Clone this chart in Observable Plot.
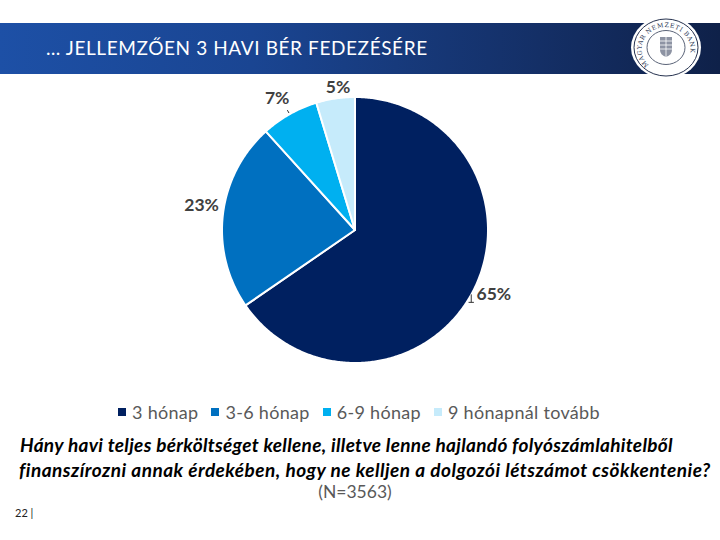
<!DOCTYPE html>
<html lang="hu">
<head>
<meta charset="utf-8">
<script src="https://cdn.jsdelivr.net/npm/d3@7"></script>
<script src="https://cdn.jsdelivr.net/npm/@observablehq/plot@0.6"></script>
<style>
  html, body { margin: 0; padding: 0; background: #fff; }
  #page { position: relative; width: 720px; height: 540px; overflow: hidden; font-family: Lato, "Open Sans", sans-serif; }
  #band { position: absolute; left: 0; top: 23px; width: 720px; height: 51px;
          background: linear-gradient(90deg, #1d50a6 0%, #1a4592 35%, #142f66 75%, #0f2149 100%); }
  #title { position: absolute; left: 46px; top: 36px; color: #fff; font-size: 19px; line-height: 24px; letter-spacing: .6px; white-space: nowrap; }
  #logo { position: absolute; left: 625px; top: 12px; }
  #chart { position: absolute; left: 0; top: 74px; }
  #legend { position: absolute; top: 400px; left: 118px; display: flex; color: #595959; font-size: 18px; line-height: 24px; white-space: nowrap; letter-spacing: .3px; }
  #legend span.item { display: flex; align-items: center; margin-right: 13px; }
  #legend i { display: inline-block; width: 8px; height: 8px; margin-right: 6px; }
  .q { position: absolute; color: #000; font-size: 19px; font-weight: 700; font-style: italic; line-height: 24px; white-space: nowrap; }
  #n { position: absolute; left: 0; width: 710px; top: 480px; text-align: center; color: #595959; font-size: 17.5px; line-height: 24px; }
  #pageno { position: absolute; left: 15px; top: 506px; font-size: 11px; line-height: 14px; color: #222; }
</style>
</head>
<body>
<div id="page">
  <div id="band"></div>
  <div id="title"></div>
  <svg id="logo" width="84" height="72" viewBox="0 0 84 72">
    <ellipse cx="41" cy="35.5" rx="35" ry="31" fill="#fff"/>
    <ellipse cx="41" cy="35.5" rx="32" ry="28.5" fill="none" stroke="#26324f" stroke-width="1"/>
    <ellipse cx="41" cy="35.5" rx="19" ry="17" fill="none" stroke="#5b6478" stroke-width="1"/>
    <path id="logoArc" d="M 24 53 A 24.5 22 0 1 1 58 53" fill="none"/>
    <text font-size="6.2" font-family="'DejaVu Serif', serif" fill="#26324f" letter-spacing=".6"><textPath href="#logoArc">MAGYAR NEMZETI BANK</textPath></text>
    <path d="M35 25 h12 v13 q0 5 -6 7 q-6 -2 -6 -7 z" fill="#8d93a3"/>
    <path d="M35 29 h12 M35 33 h12 M35 37 h12 M41 25 v20" stroke="#fff" stroke-width=".8"/>
  </svg>
  <div id="chart"></div>
  <div id="legend"></div>
  <div class="q" id="q1" style="top:433px;left:20px;letter-spacing:.31px"></div>
  <div class="q" id="q2" style="top:458px;left:19px;letter-spacing:.48px"></div>
  <div id="n"></div>
  <div id="pageno"></div>
</div>
<script>
const titleText = "… JELLEMZŐEN 3 HAVI BÉR FEDEZÉSÉRE";
const categories = ["3 hónap", "3-6 hónap", "6-9 hónap", "9 hónapnál tovább"];
const values = [65.4, 22.9, 7.0, 4.7];
const colors = ["#002060", "#0070c0", "#00b0f0", "#c6ebfb"];
const labelNudgeX = [3, -2, -3, 5];
const labelNudgeY = [-7, -7, 1, 8];
const questionLines = [
  "Hány havi teljes bérköltséget kellene, illetve lenne hajlandó folyószámlahitelből",
  "finanszírozni annak érdekében, hogy ne kelljen a dolgozói létszámot csökkentenie?"
];
const sampleText = "(N=3563)";
const pageNumber = "22 |";

document.getElementById("title").textContent = titleText;
document.getElementById("q1").textContent = questionLines[0];
document.getElementById("q2").textContent = questionLines[1];
document.getElementById("n").textContent = sampleText;
document.getElementById("pageno").textContent = pageNumber;
document.getElementById("legend").innerHTML = categories.map((c, i) =>
  `<span class="item"><i style="background:${colors[i]}"></i>${c}</span>`).join("");

// Slices as wedges: clockwise from 12 o'clock, in units of the pie radius.
const total = d3.sum(values);
const cum = d3.cumsum(values);
const wedges = [];
const slices = categories.map((category, i) => {
  const a0 = (cum[i] - values[i]) / total * 2 * Math.PI;
  const a1 = cum[i] / total * 2 * Math.PI;
  const steps = Math.ceil((a1 - a0) / 0.01);
  for (let s = 0; s <= steps; s++) {
    const a = a0 + (a1 - a0) * s / steps;
    wedges.push({category, px: Math.sin(a), py: Math.cos(a)});
  }
  const mid = (a0 + a1) / 2;
  return {category, value: values[i], mx: Math.sin(mid), my: Math.cos(mid)};
});

const R = 133, W = 720, H = 321, cx = 355, cy = 156;
const labelR = 1.15;

const labelMarks = slices.map((d, i) => Plot.text([d], {
  x: d => d.mx * labelR,
  y: d => d.my * labelR,
  text: d => Math.round(d.value) + "%",
  dx: labelNudgeX[i],
  dy: labelNudgeY[i],
  fill: "#404040",
  fontSize: 17.5,
  fontWeight: 700
}));

const big = slices[0], small = slices[2];
const chart = Plot.plot({
  width: W,
  height: H,
  margin: 0,
  x: {domain: [-cx / R, (W - cx) / R], range: [0, W], axis: null},
  y: {domain: [cy / R, (cy - H) / R], range: [0, H], axis: null},
  color: {domain: categories, range: colors},
  style: {background: "transparent", fontFamily: "Lato, 'Open Sans', sans-serif"},
  marks: [
    Plot.area(wedges, {
      x1: () => 0, y1: () => 0,
      x2: "px", y2: "py",
      z: "category",
      fill: "category",
      stroke: "#fff",
      strokeWidth: 2,
      curve: "linear"
    }),
    Plot.link([small], {
      x1: d => d.mx * 1.015, y1: d => d.my * 1.015,
      x2: d => d.mx * 1.04, y2: d => d.my * 1.04,
      stroke: "#333", strokeWidth: 1
    }),
    Plot.link([big], {
      x1: d => d.mx, y1: d => d.my,
      x2: d => d.mx, y2: d => d.my - 0.06,
      dx: -2, dy: 2, stroke: "#333", strokeWidth: 1
    }),
    Plot.link([big], {
      x1: d => d.mx - 0.02, y1: d => d.my - 0.06,
      x2: d => d.mx + 0.02, y2: d => d.my - 0.06,
      dx: -2, dy: 2, stroke: "#333", strokeWidth: 1
    }),
    ...labelMarks
  ]
});
document.getElementById("chart").append(chart);
</script>
</body>
</html>
